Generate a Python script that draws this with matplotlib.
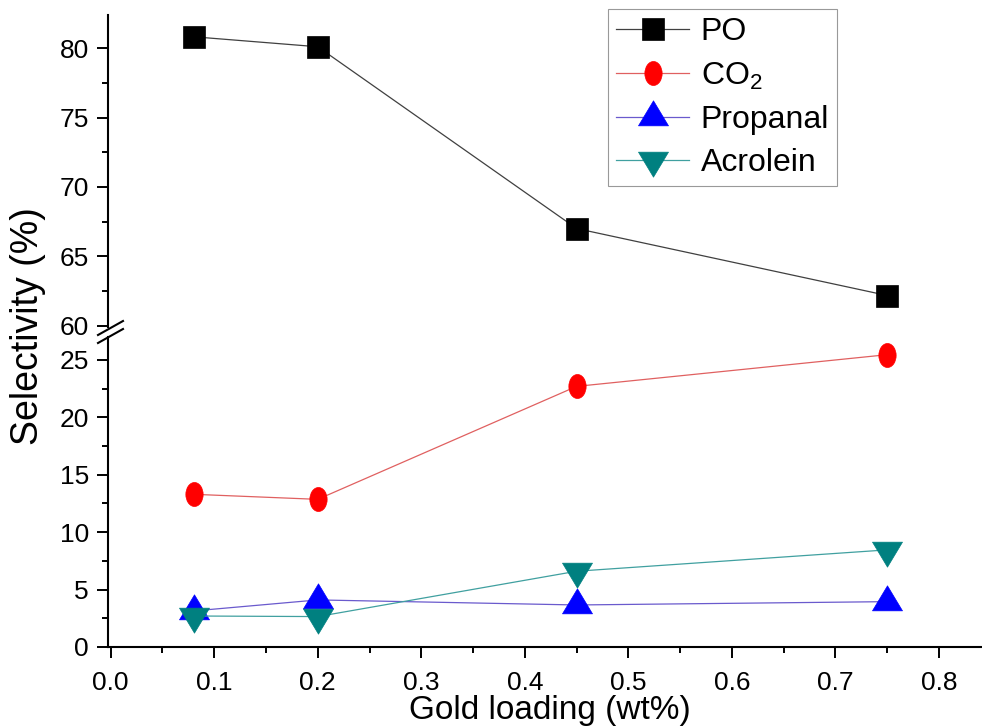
import numpy as np
import matplotlib
matplotlib.use("Agg")
import matplotlib.pyplot as plt
from matplotlib.lines import Line2D
from matplotlib.path import Path
from matplotlib.transforms import Affine2D
from matplotlib.ticker import MultipleLocator, FormatStrFormatter

plt.rcParams['font.family'] = ['Liberation Sans', 'DejaVu Sans']
plt.rcParams['mathtext.default'] = 'regular'

# Gold loading (wt%) and product selectivities (%)
gold_loading = [0.08, 0.2, 0.45, 0.75]
po = [80.83, 80.11, 67.0, 62.17]
co2 = [13.3, 12.86, 22.7, 25.46]
propanal = [3.14, 4.1, 3.66, 3.95]
acrolein = [2.7, 2.65, 6.6, 8.46]

# markers centred on their centroid, like the original plotting package
tri_up = Path([(0, 1), (-0.9, -0.5), (0.9, -0.5), (0, 1)], closed=True)
tri_down = Path([(0, -1), (-0.9, 0.5), (0.9, 0.5), (0, -1)], closed=True)
ellipse = Path.unit_circle().transformed(Affine2D().scale(0.72, 1.0))

W, H = 982, 728
fig = plt.figure(figsize=(W / 100, H / 100), dpi=100)


def px(x0, y0, x1, y1):
    # pixel box (top-left origin) -> figure fraction rect
    return [x0 / W, 1 - y1 / H, (x1 - x0) / W, (y1 - y0) / H]


ax_top = fig.add_axes(px(108.3, 15, 982, 327))
ax_bot = fig.add_axes(px(108.3, 337, 982, 647))

xlim = (-0.0023, 0.8415)

series_bot = [
    (co2, 'CO$_{2}$', ellipse, 17.3, '#ff0000', '#e06060'),
    (propanal, 'Propanal', tri_up, 24, '#0000ff', '#6a5acd'),
    (acrolein, 'Acrolein', tri_down, 24, '#008080', '#40a0a0'),
]

handles = []
h, = ax_top.plot(gold_loading, po, color='#404040', lw=0.9, marker='s',
                 ms=15.5, mfc='black', mec='black', mew=0.5, label='PO')
handles.append(h)
for vals, name, mk, ms, fc, lc in series_bot:
    h, = ax_bot.plot(gold_loading, vals, color=lc, lw=0.9, marker=mk, ms=ms,
                     mfc=fc, mec=fc, mew=0.5, label=name)
    handles.append(h)

for ax in (ax_top, ax_bot):
    ax.set_xlim(*xlim)
    ax.set_facecolor('none')
    ax.spines['top'].set_visible(False)
    ax.spines['right'].set_visible(False)
    ax.spines['left'].set_linewidth(1.5)
    ax.spines['bottom'].set_linewidth(1.5)
    ax.xaxis.set_major_locator(MultipleLocator(0.1))
    ax.xaxis.set_minor_locator(MultipleLocator(0.05))
    ax.yaxis.set_major_locator(MultipleLocator(5))
    ax.yaxis.set_minor_locator(MultipleLocator(2.5))
    ax.tick_params(which='major', direction='out', length=8, width=1.4,
                   labelsize=19)
    ax.tick_params(axis='y', which='major', pad=6)
    ax.tick_params(axis='x', which='major', pad=9)
    ax.tick_params(which='minor', direction='out', length=4, width=1.4)

ax_top.set_ylim(59.9, 82.4)
ax_top.spines['bottom'].set_visible(False)
ax_top.tick_params(axis='x', which='both', bottom=False, labelbottom=False)

ax_bot.set_ylim(0, 27.0)
ax_bot.xaxis.set_major_formatter(FormatStrFormatter('%.1f'))

# axis break marks
for y0 in (335, 343):
    fig.add_artist(Line2D([98 / W, 123 / W], [1 - y0 / H, 1 - (y0 - 14) / H],
                          color='black', lw=1.5, transform=fig.transFigure))

fig.text(550 / W, 1 - 711 / H, 'Gold loading (wt%)', ha='center', va='center',
         fontsize=24)
fig.text(28 / W, 1 - 326 / H, 'Selectivity (%)', ha='center', va='center',
         rotation=90, fontsize=27)

leg = fig.legend(handles=handles, loc='upper right',
                 bbox_to_anchor=(837 / W, 1 - 9 / H), fontsize=23,
                 frameon=True, fancybox=False, edgecolor='#808080',
                 handlelength=2.3, handletextpad=0.35, labelspacing=0.42,
                 borderpad=0.25, borderaxespad=0)
leg.get_frame().set_linewidth(0.8)

fig.savefig('out.png', dpi=100)
